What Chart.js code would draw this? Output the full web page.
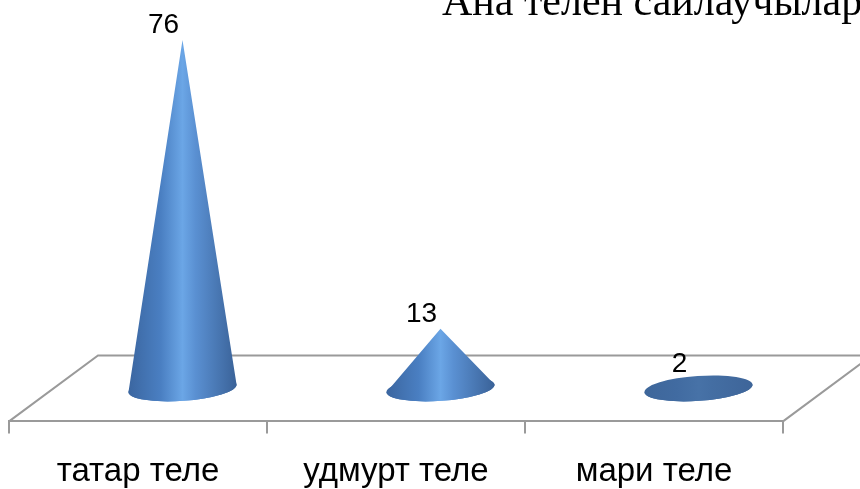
<!DOCTYPE html>
<html>
<head>
<meta charset="utf-8">
<script src="https://cdn.jsdelivr.net/npm/chart.js@4"></script>
<style>
    html, body { margin: 0; padding: 0; background: #fff; overflow: hidden; }
    canvas { display: block; }
</style>
</head>
<body>
<canvas id="coneChart" width="860" height="511"></canvas>
<script>
const chartTitle = 'Ана телен сайлаучылар';
const languages = ['татар теле', 'удмурт теле', 'мари теле'];
const voters = [76, 13, 2];

// floor depth (3d look)
const depthX = 89;
const depthY = 66;
const lineGray = '#9a9a9a';

function mix(a, b, t) {
    let r = Math.round(a[0] * t + b[0] * (1 - t));
    let g = Math.round(a[1] * t + b[1] * (1 - t));
    let bl = Math.round(a[2] * t + b[2] * (1 - t));
    return `rgb(${r},${g},${bl})`;
}

function drawCone(ctx, cx, base, apex, rx, ry) {
    const flat = [63, 102, 153];
    const t = Math.min(1, (base - apex) / 50);
    const stops = [
        [0, [59, 102, 160]],
        [0.3, [74, 127, 194]],
        [0.5, [107, 166, 230]],
        [0.62, [90, 144, 210]],
        [1, [58, 98, 152]]
    ];
    let grad = ctx.createLinearGradient(cx - rx, 0, cx + rx, 0);
    stops.forEach(s => grad.addColorStop(s[0], mix(s[1], flat, t)));

    const rot = -0.07;
    const ex = rx * Math.cos(rot);
    const ey = rx * Math.sin(rot);

    ctx.save();
    ctx.fillStyle = grad;
    // base ellipse
    ctx.beginPath();
    ctx.ellipse(cx, base, rx, ry, rot, 0, Math.PI * 2);
    ctx.fill();
    // cone body
    ctx.beginPath();
    ctx.moveTo(cx, apex);
    ctx.lineTo(cx + ex, base + ey);
    ctx.ellipse(cx, base, rx, ry, rot, 0, Math.PI);
    ctx.closePath();
    ctx.fill();
    ctx.restore();
}

const conePlugin = {
    id: 'cones',
    beforeDatasetsDraw(chart) {
        const ctx = chart.ctx;
        const a = chart.chartArea;
        ctx.save();
        ctx.strokeStyle = lineGray;
        ctx.lineWidth = 2;
        ctx.beginPath();
        ctx.moveTo(a.left, a.bottom);
        ctx.lineTo(a.left + depthX, a.bottom - depthY);
        ctx.lineTo(a.right + depthX, a.bottom - depthY);
        ctx.lineTo(a.right, a.bottom);
        ctx.stroke();
        ctx.restore();
    },
    afterDatasetsDraw(chart) {
        const ctx = chart.ctx;
        const yScale = chart.scales.y;
        const meta = chart.getDatasetMeta(0);
        meta.data.forEach((bar, i) => {
            const cx = bar.x + depthX / 2;
            const base = yScale.getPixelForValue(0) - depthY / 2;
            const apex = yScale.getPixelForValue(voters[i]) - depthY / 2;
            const rx = bar.width / 2;
            drawCone(ctx, cx, base, apex, rx, rx * 0.23);

            ctx.save();
            ctx.fillStyle = '#000';
            ctx.font = '28px "Liberation Sans", Arial, sans-serif';
            ctx.textAlign = 'center';
            ctx.textBaseline = 'middle';
            ctx.fillText(String(voters[i]), cx - 19, apex - 15);
            ctx.restore();
        });

        // title (cut by the right edge like the original)
        ctx.save();
        ctx.fillStyle = '#000';
        ctx.font = '42px "Liberation Serif", "Times New Roman", serif';
        ctx.textAlign = 'left';
        ctx.textBaseline = 'alphabetic';
        ctx.fillText(chartTitle, 442, 15);
        ctx.restore();
    }
};

const ctx = document.getElementById('coneChart').getContext('2d');

let coneChart = new Chart(ctx, {
    type: 'bar',
    data: {
        labels: languages,
        datasets: [{
            data: voters,
            backgroundColor: 'rgba(0,0,0,0)',
            borderWidth: 0,
            categoryPercentage: 1,
            barPercentage: 0.42
        }]
    },
    options: {
        responsive: false,
        animation: false,
        layout: {
            padding: { left: 9, right: 77, top: 73, bottom: 0 }
        },
        plugins: {
            legend: { display: false },
            tooltip: { enabled: false },
            title: { display: false }
        },
        scales: {
            x: {
                grid: {
                    drawOnChartArea: false,
                    drawTicks: true,
                    tickLength: 12,
                    color: lineGray,
                    lineWidth: 2
                },
                border: { color: lineGray, width: 2 },
                ticks: {
                    color: '#000',
                    padding: 19,
                    font: { family: '"Liberation Sans", Arial, sans-serif', size: 33 }
                }
            },
            y: {
                display: false,
                min: 0,
                max: 76
            }
        }
    },
    plugins: [conePlugin]
});
</script>
</body>
</html>
